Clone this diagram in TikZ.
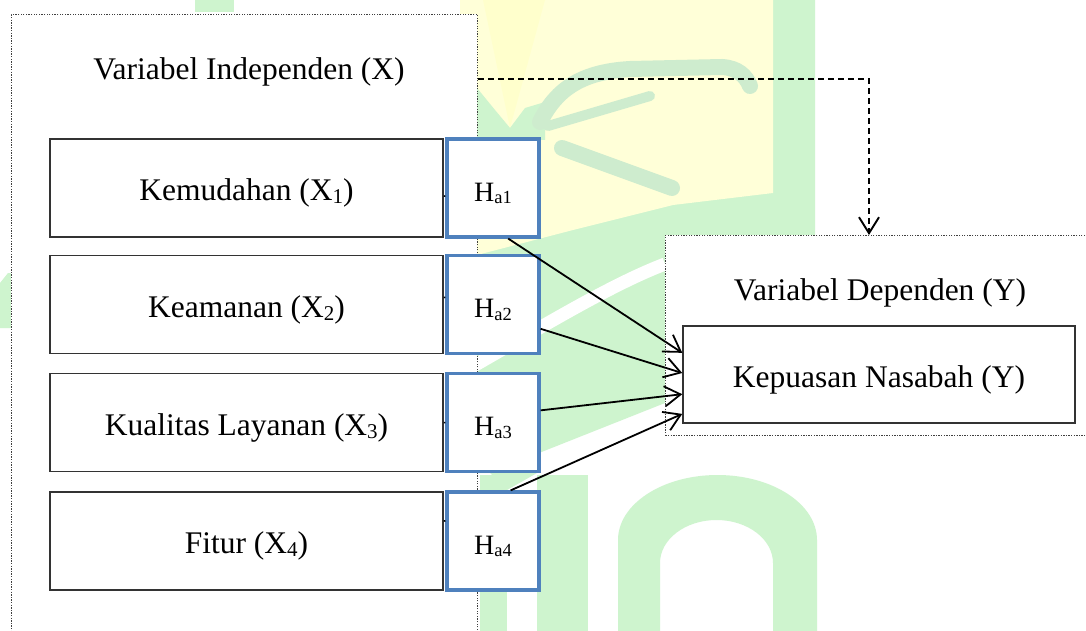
\documentclass[tikz,border=0pt]{standalone}
\usepackage{fontspec}
\setmainfont{Liberation Serif}
\usetikzlibrary{arrows.meta,calc}

\definecolor{hblue}{RGB}{79,129,189}
\definecolor{wmgreen}{RGB}{206,244,206}
\definecolor{wmyellow}{RGB}{255,255,216}
\definecolor{wmbright}{RGB}{255,255,204}
\definecolor{wmleaf}{RGB}{206,236,206}

\newcommand\bigtxt{\fontsize{31.5}{36}\selectfont}
\newcommand\htxt{\fontsize{28}{32}\selectfont}
\newcommand\lo[1]{\raisebox{-0.1em}{\fontsize{21}{21}\selectfont #1}}
\newcommand\hlo[1]{\raisebox{-0.1em}{\fontsize{18.5}{18}\selectfont #1}}

\tikzset{
  dotbox/.style={draw=black!75, line width=0.9pt, dash pattern=on 1.3pt off 1.3pt,
    fill=white, inner sep=0pt},
  varbox/.style={draw=black!80, line width=1.5pt, fill=white, inner sep=0pt,
    minimum width=393pt, minimum height=98pt, font=\bigtxt,
    text height=25.5pt, text depth=0pt},
  hypbox/.style={draw=hblue, line width=3.2pt, fill=white, inner sep=0pt,
    minimum width=92pt, minimum height=98pt, font=\htxt,
    text height=26pt, text depth=0pt},
  titletxt/.style={font=\bigtxt, inner sep=0pt, text height=26pt, text depth=0pt},
  link/.style={line width=1.8pt, -{Straight Barb[length=16pt,width=20pt]}},
  dasharrow/.style={line width=1.9pt, dash pattern=on 6.5pt off 3.5pt,
    -{Straight Barb[length=16pt,width=20pt]}},
  tick/.style={line width=1.5pt, black}
}

\begin{document}
\begin{tikzpicture}[x=1pt,y=-1pt]
\useasboundingbox (0,0) rectangle (1086,631);
\clip (0,0) rectangle (1086,631);
\fill[white] (0,0) rectangle (1086,631);

% faint background emblem
\fill[wmgreen] (460,0) -- (815,0) -- (815,240) -- (665,240) -- (665,403)
  -- (539,453) -- (537,473) -- (507,490) -- (490,473) -- (460,473) -- cycle;
\fill[wmyellow] (460,0) -- (773,0) -- (773,193) -- (673,205) -- (573,230)
  -- (477,255) -- (460,258) -- cycle;
\fill[wmbright] (483,0) -- (545,0) -- (510,128) -- cycle;
\fill[wmgreen] (477,88) -- (495,110) -- (510,128) -- (525,108) -- (545,102)
  -- (545,140) -- (477,140) -- cycle;
\draw[wmleaf, line width=16pt, line cap=round]
  (540,122) .. controls (555,92) and (578,72) .. (630,69) -- (722,67)
  .. controls (738,68) and (746,76) .. (750,86);
\draw[wmleaf, line width=10pt, line cap=round] (548,126) -- (650,96);
\draw[wmleaf, line width=16pt, line cap=round] (562,148) -- (672,188);
\draw[white, line width=13pt] (470,368) .. controls (540,328) and (610,285) .. (665,264);
\fill[wmgreen] (0,283) -- (8,273) -- (11,273) -- (11,328) -- (0,328) -- cycle;
\fill[wmgreen] (195,0) rectangle (234,12);
\fill[wmgreen] (480,475) rectangle (507,631);
\fill[wmgreen] (537,475) rectangle (588,631);
\fill[wmgreen] (618,631) -- (618,540)
  .. controls (618,504.1) and (662.5,475) .. (717.5,475)
  .. controls (772.5,475) and (817,504.1) .. (817,540) -- (817,631) -- (773,631) -- (773,563)
  .. controls (773,539.3) and (747.7,520) .. (716.5,520)
  .. controls (685.3,520) and (660,539.3) .. (660,563) -- (660,631) -- cycle;

% grouping frames
\node[dotbox, anchor=north west, minimum width=466pt, minimum height=680pt] (indep) at (11,14) {};
\node[dotbox, anchor=north west, minimum width=440pt, minimum height=200pt] (dep) at (665,235) {};
\node[titletxt] (indepT) at (249,67) {Variabel Independen (X)};
\node[titletxt] (depT) at (880,287) {Variabel Dependen (Y)};

% independent variables and hypotheses
\node[varbox] (X1) at (246.5,188)   {Kemudahan (X\lo{1})};
\node[varbox] (X2) at (246.5,304.5) {Keamanan (X\lo{2})};
\node[varbox] (X3) at (246.5,422.5) {Kualitas Layanan (X\lo{3})};
\node[varbox] (X4) at (246.5,541)   {Fitur (X\lo{4})};

\node[hypbox] (H1) at (493,188)   {H\hlo{a1}};
\node[hypbox] (H2) at (493,304.5) {H\hlo{a2}};
\node[hypbox] (H3) at (493,422.5) {H\hlo{a3}};
\node[hypbox] (H4) at (493,541)   {H\hlo{a4}};

\draw[tick] ($(X1.north east)!0.58!(X1.south east)$) -- ($(H1.north west)!0.58!(H1.south west)$);
\draw[tick] ($(X2.north east)!0.43!(X2.south east)$) -- ($(H2.north west)!0.43!(H2.south west)$);
\draw[tick] ($(X3.north east)!0.50!(X3.south east)$) -- ($(H3.north west)!0.50!(H3.south west)$);
\draw[tick] ($(X4.north east)!0.30!(X4.south east)$) -- ($(H4.north west)!0.30!(H4.south west)$);

% dependent variable
\node[varbox, minimum width=392pt, minimum height=97pt] (K) at (879,374.5) {Kepuasan Nasabah (Y)};

% hypothesis paths
\draw[link] ($(H1.south west)!0.66!(H1.south east)$) -- ($(K.north west)!0.28!(K.south west)$);
\draw[link] ($(H2.north east)!0.74!(H2.south east)$) -- ($(K.north west)!0.485!(K.south west)$);
\draw[link] ($(H3.north east)!0.38!(H3.south east)$) -- ($(K.north west)!0.70!(K.south west)$);
\draw[link] ($(H4.north west)!0.685!(H4.north east)$) -- ($(K.north west)!0.90!(K.south west)$);

% simultaneous effect
\coordinate (depin) at ($(dep.north west)+(204,0)$);
\draw[dasharrow] ($(indep.north east)+(0,65)$) -| (depin);
\end{tikzpicture}
\end{document}
